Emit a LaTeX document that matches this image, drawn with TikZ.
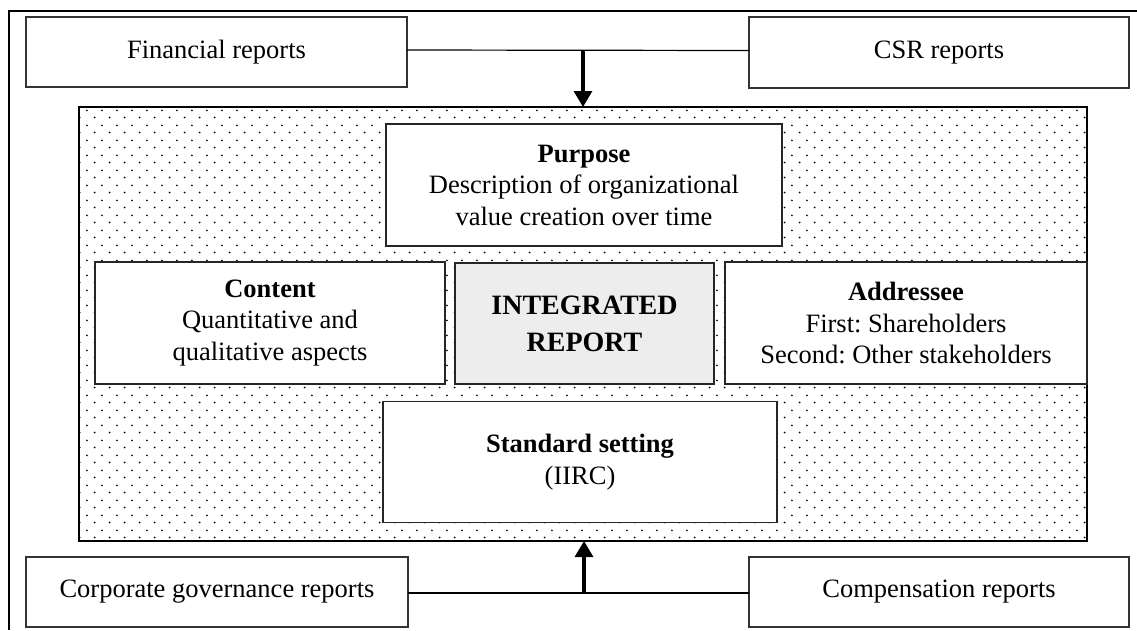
\documentclass[tikz,border=0pt]{standalone}
\usepackage{fontspec}
\setmainfont{Liberation Serif}
\usetikzlibrary{arrows.meta,patterns.meta}
\frenchspacing
\pgfdeclarepattern{
  name=sparsedots,
  type=uncolored,
  bottom left={\pgfpoint{0pt}{0pt}},
  top right={\pgfpoint{15.3pt}{15pt}},
  tile size={\pgfpoint{15.3pt}{15pt}},
  code={
    \pgfpathcircle{\pgfpoint{3.8pt}{3.75pt}}{1pt}
    \pgfpathcircle{\pgfpoint{11.45pt}{11.25pt}}{1pt}
    \pgfusepath{fill}
  }
}
\begin{document}
\begin{tikzpicture}[x=1pt,y=-1pt,
  txt/.style={font=\fontsize{26.5}{31.5}\selectfont, align=center, inner sep=0pt, outer sep=0pt},
  outerbox/.style={txt, draw=black!80, line width=1.3pt, fill=white},
  innerbox/.style={txt, draw=black!85, line width=1.3pt, fill=white},
  bigarrow/.style={line width=3.2pt, -{Triangle[length=16pt,width=18pt]}},
  conn/.style={line width=1.2pt, draw=black}
]
\useasboundingbox (0,0) rectangle (1137,630);
\fill[white] (0,0) rectangle (1137,630);
% outer frame (top and left)
\draw[line width=2.8pt] (9,630) -- (9,11) -- (1137,11);

% report boxes
\node[outerbox, minimum width=381pt, minimum height=70pt] (fin) at (216.5,52) {Financial reports};
\node[outerbox, minimum width=380pt, minimum height=71pt] (csr) at (939,52.5) {CSR reports};
\node[outerbox, minimum width=382pt, minimum height=70pt] (cg) at (217,592) {Corporate governance reports};
\node[outerbox, minimum width=380pt, minimum height=70pt] (comp) at (939,592) {Compensation reports};

% dotted area
\node[draw=black, line width=1.3pt, pattern={sparsedots}, pattern color=black,
      minimum width=1008pt, minimum height=434pt, inner sep=0pt, outer sep=0pt] (area) at (583,324) {};

% inner boxes
\node[innerbox, minimum width=396pt, minimum height=122pt] (purpose) at (584,185)
  {\textbf{Purpose}\\Description of organizational\\value creation over time};
\node[innerbox, minimum width=350pt, minimum height=122pt] (content) at (270,323)
  {\textbf{Content}\\Quantitative and\\qualitative aspects};
\node[innerbox, fill=black!7, minimum width=259pt, minimum height=121pt,
      font=\fontsize{28}{37}\selectfont\bfseries] (integ) at (584.5,323.5)
  {INTEGRATED\\REPORT};
\node[innerbox, minimum width=362pt, minimum height=122pt] (addr) at (906,323)
  {\textbf{Addressee}\\First: Shareholders\\Second: Other stakeholders};
\node[innerbox, minimum width=394pt, minimum height=121pt] (std) at (580,462)
  {\textbf{Standard setting}\\(IIRC)};

% connectors
\coordinate (tj) at (583,50);
\coordinate (bj) at (584,593);
\draw[conn] ([yshift=2pt]fin.east) -- ([yshift=2pt]csr.west);
\draw[bigarrow] (tj) -- (tj |- area.north);
\draw[conn] ([yshift=-1pt]cg.east) -- ([yshift=-1pt]comp.west);
\draw[bigarrow] (bj) -- (bj |- area.south);
\end{tikzpicture}
\end{document}
